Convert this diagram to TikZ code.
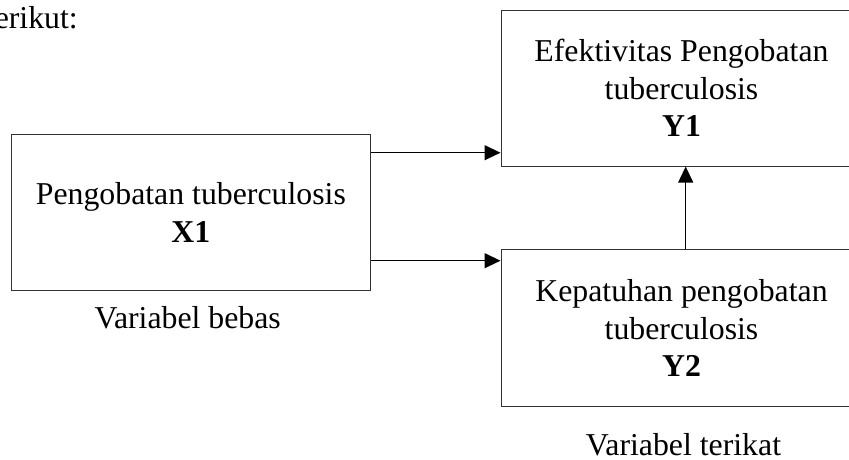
\documentclass[tikz,border=0pt]{standalone}
\usepackage{fontspec}
\setmainfont{Liberation Serif}
\usetikzlibrary{arrows.meta}
\begin{document}
\begin{tikzpicture}[x=1pt,y=-1pt,
  box/.style={draw=black!80, line width=1pt, rectangle, inner sep=0pt, align=center,
    font=\fontsize{31.8}{37.5}\selectfont},
  lbl/.style={font=\fontsize{31.8}{37.5}\selectfont, anchor=base, inner sep=0pt},
  arr/.style={-{Triangle[length=16pt,width=15pt]}, line width=1.3pt}]
\useasboundingbox (0,0) rectangle (849,459);
\node[lbl, anchor=base east] (intro) at (78,28) {erikut:};
\node[box, minimum width=359.7pt, minimum height=156.4pt] (x1) at (190.85,212.5)
  {Pengobatan tuberculosis\\\textbf{X1}};
\node[box, minimum width=361pt, minimum height=155.7pt] (y1) at (681.5,88.2)
  {Efektivitas Pengobatan\\tuberculosis\\\textbf{Y1}};
\node[box, minimum width=361pt, minimum height=156.7pt] (y2) at (681.5,328.3)
  {Kepatuhan pengobatan\\tuberculosis\\\textbf{Y2}};
\node[lbl] (bebas) at (187.7,328) {Variabel bebas};
\node[lbl] (terikat) at (683.5,455) {Variabel terikat};
\coordinate (a1) at ([yshift=59.8pt]x1.east);
\coordinate (a2) at ([yshift=-48.2pt]x1.east);
\coordinate (v2) at ([xshift=4.2pt]y2.north);
\draw[arr] (a1) -- (a1 -| y1.west);
\draw[arr] (a2) -- (a2 -| y2.west);
\draw[arr] (v2) -- (v2 |- y1.south);
\end{tikzpicture}
\end{document}
